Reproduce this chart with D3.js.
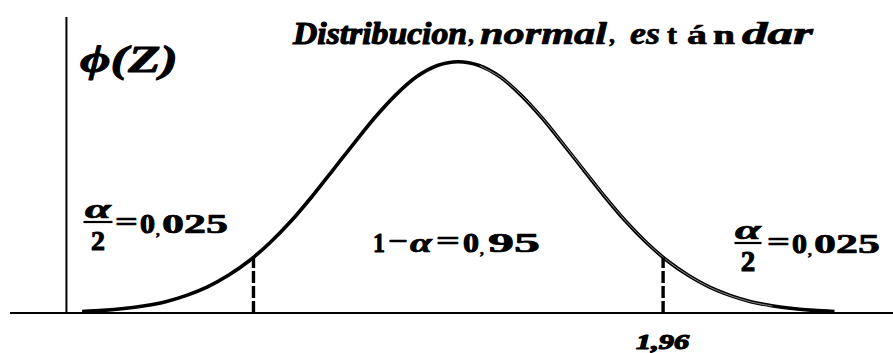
<!DOCTYPE html>
<html>
<head>
<meta charset="utf-8">
<script src="https://cdn.jsdelivr.net/npm/d3@7/dist/d3.min.js"></script>
<style>
  html, body { margin: 0; padding: 0; background: #ffffff; }
  svg { display: block; }
</style>
</head>
<body>
<svg id="chart" width="893" height="353"></svg>
<script>
// Standard-score grid and curve heights of the bell
const zGrid = [-3.6, -3.4, -3.2, -3.0, -2.8, -2.6, -2.4, -2.2, -2.0, -1.8, -1.6, -1.4, -1.2, -1.0, -0.8, -0.6, -0.4, -0.2,
               0, 0.2, 0.4, 0.6, 0.8, 1.0, 1.2, 1.4, 1.6, 1.8, 2.0, 2.2, 2.4, 2.6, 2.8, 3.0, 3.2, 3.4, 3.6];
const phiValues = [0.0025, 0.0042, 0.0071, 0.0116, 0.018, 0.028, 0.0415, 0.060, 0.083, 0.112, 0.146, 0.185, 0.227, 0.269, 0.310, 0.346, 0.375, 0.393,
                   0.399, 0.393, 0.375, 0.346, 0.310, 0.269, 0.227, 0.185, 0.146, 0.112, 0.083, 0.060, 0.0415, 0.028, 0.018, 0.0116, 0.0071, 0.0042, 0.0025];

// Critical values (two-tailed, alpha = 0.05) and curve height there
const critZ = [-1.96, 1.96];
const critPhi = [0.088, 0.088];
const critLabel = "1,96";

const SERIF = '"Liberation Serif"';

const svg = d3.select("#chart");

const x = d3.scaleLinear().domain([-4.29, 4.16]).range([10, 893]);
const y = d3.scaleLinear().domain([0, 0.47]).range([313, 17]);

const yAxisZ = -3.75;

// Horizontal axis
svg.append("line")
  .attr("x1", x(-4.29)).attr("x2", x(4.16))
  .attr("y1", y(0)).attr("y2", y(0))
  .attr("stroke", "#000").attr("stroke-width", 2);

// Vertical axis
svg.append("line")
  .attr("x1", x(yAxisZ)).attr("x2", x(yAxisZ))
  .attr("y1", y(0.47)).attr("y2", y(0))
  .attr("stroke", "#000").attr("stroke-width", 2);

const pts = zGrid.map((z, i) => [z, phiValues[i]]);
const line = d3.line()
  .x(d => x(d[0]))
  .y(d => y(d[1]))
  .curve(d3.curveCatmullRom.alpha(0.5));

// Bell curve
svg.append("path")
  .attr("d", line(pts))
  .attr("fill", "none")
  .attr("stroke", "#000")
  .attr("stroke-width", 3.6)
  .attr("stroke-linejoin", "round");

// Light inner stroke along the descending side
svg.append("path")
  .attr("d", line(pts.filter(d => d[0] >= 0.2 && d[0] <= 3.0)))
  .attr("fill", "none")
  .attr("stroke", "#9a9a9a")
  .attr("stroke-width", 0.9)
  .attr("transform", "translate(0.6,0.4)");

// Dashed lines at the critical values
svg.selectAll("line.crit")
  .data(critZ)
  .join("line")
  .attr("class", "crit")
  .attr("x1", d => x(d)).attr("x2", d => x(d))
  .attr("y1", y(0)).attr("y2", (d, i) => y(critPhi[i]))
  .attr("stroke", "#000")
  .attr("stroke-width", 3.4)
  .attr("stroke-dasharray", "12,3");

// Text helper: draws a heavy string stretched horizontally to a set width
function put(str, px, py, o) {
  o = o || {};
  const g = svg.append("g");
  const t = g.append("text")
    .attr("x", 0).attr("y", 0)
    .style("font-family", SERIF)
    .style("font-size", (o.size || 26) + "px")
    .style("font-weight", "bold")
    .style("font-style", o.italic ? "italic" : "normal")
    .style("fill", "#000")
    .style("stroke", "#000")
    .style("stroke-width", (o.heavy || 0.7) + "px")
    .style("stroke-linejoin", "round")
    .text(str);
  const w = t.node().getComputedTextLength();
  const target = o.len || w;
  const sx = w > 0 ? target / w : 1;
  const left = o.anchor === "middle" ? px - target / 2 : px;
  g.attr("transform", `translate(${left},${py}) scale(${sx},1)`);
  return g;
}

// Label under the right critical value
put(critLabel, x(critZ[1]) - 27, 349, { size: 21, italic: true, len: 53, heavy: 1.2 });

// Axis title
put("\u03D5(Z)", 80, 72, { size: 37, italic: true, len: 98, heavy: 0.9 });

// Chart title
put("Distribucion", 293, 44, { size: 31, italic: true, len: 174, heavy: 1.1 });
put(",", 469, 42, { size: 24, italic: true });
put("normal", 480, 44, { size: 31, italic: true, len: 127 });
put(",", 610, 42, { size: 24, italic: true });
put("es", 630, 44, { size: 31, italic: true, len: 30 });
put("t", 667, 44, { size: 28, len: 10 });
put("\u00E1", 687, 44, { size: 28, len: 20 });
put("n", 713, 44, { size: 28, len: 22 });
put("dar", 742, 44, { size: 31, italic: true, len: 71 });

// Fraction label helper: alpha over 2 followed by "= 0,025"
function tailLabel(cx, barY, halfBar, eqX, numY, size) {
  put("\u03B1", cx, barY - 4, { size: size, italic: true, anchor: "middle", len: 26 });
  svg.append("line")
    .attr("x1", cx - halfBar).attr("x2", cx + halfBar)
    .attr("y1", barY).attr("y2", barY)
    .attr("stroke", "#000").attr("stroke-width", 2.2);
  put("2", cx, barY + 28, { size: size + 1, anchor: "middle", heavy: 1 });
  put("=", eqX, numY - 2, { size: size, len: 23 });
  put("0", eqX + 25, numY, { size: size, len: 15, heavy: 1 });
  put(",", eqX + 41, numY + 2, { size: 15 });
  put("025", eqX + 47, numY, { size: size, len: 66 });
}

tailLabel(98, 222, 14.5, 115, 233, 27);
tailLabel(748, 243, 13.5, 767, 253, 28);

// Central area label
put("1", 373, 252, { size: 27, len: 12, heavy: 1 });
put("\u2212", 388, 250, { size: 27, len: 20 });
put("\u03B1", 410, 252, { size: 27, italic: true, len: 22 });
put("=", 436, 250, { size: 27, len: 24 });
put("0", 463, 252, { size: 27, len: 16, heavy: 1 });
put(",", 480, 254, { size: 15 });
put("95", 488, 252, { size: 27, len: 52 });
</script>
</body>
</html>
